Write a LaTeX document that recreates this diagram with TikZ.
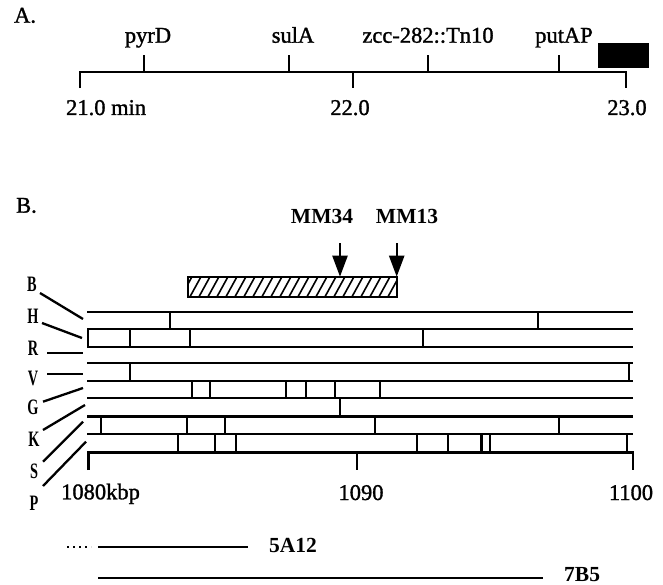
\documentclass[tikz,border=0pt]{standalone}
\usepackage{fontspec}
\setmainfont{Liberation Serif}
\newfontfamily\heavyrm[FakeBold=1.3]{Liberation Serif}
\usetikzlibrary{arrows.meta}
\newcommand{\condtxt}[1]{\scalebox{0.65}[1]{#1}}
\begin{document}
\begin{tikzpicture}[x=1pt,y=-1pt,line width=2.3pt,
  lab/.style={font=\heavyrm\fontsize{22.5}{24}\selectfont,inner sep=0pt},
  blab/.style={font=\fontsize{21.5}{22}\selectfont\bfseries,inner sep=0pt},
  enz/.style={font=\fontsize{22}{22}\selectfont\bfseries,inner sep=0pt},
  rowline/.style={line width=2.3pt},
  conn/.style={line width=2.3pt},
  arr/.style={line width=2.3pt,-{Triangle[width=15pt,length=21pt]}}]
\useasboundingbox (0,0) rectangle (663,585);

% ---------------- Part A ----------------
\node[lab,anchor=base west] (labA) at (13,22.7) {A.};
\coordinate (a0) at (80,71.7);
\coordinate (a1) at (352.7,71.7);
\coordinate (a2) at (626,71.7);
\draw (a0) ++(0,16.5) -- (a0) -- (a2) -- ++(0,16.5);
\draw (a1) -- ++(0,16.5);
\coordinate (tpyr) at (144,71.7);
\coordinate (tsul) at (289,71.7);
\coordinate (tzcc) at (428.3,71.7);
\coordinate (tput) at (559.3,71.7);
\foreach \t in {tpyr,tsul,tzcc,tput} \draw (\t) -- ++(0,-16.7);
\node[lab,anchor=base] (pyrD) at (148,42.7) {pyrD};
\node[lab,anchor=base] (sulA) at (293,42.7) {sulA};
\node[lab,anchor=base] (zcc) at (428,42.7) {zcc-282::Tn10};
\node[lab,anchor=base] (putAP) at (564,42.7) {putAP};
\fill (598,43) rectangle (649,68);
\node[lab,anchor=base west] (m21) at (65,115) {21.0 min};
\node[lab,anchor=base] (m22) at (350,115) {22.0};
\node[lab,anchor=base] (m23) at (627,115) {23.0};

% ---------------- Part B ----------------
\node[lab,anchor=base west] (labB) at (15,212.7) {B.};
\node[blab,anchor=base] (mm34) at (322,223) {MM34};
\node[blab,anchor=base] (mm13) at (407,223) {MM13};
% hatched bar
\coordinate (hb1) at (188.3,276.7);
\coordinate (hb2) at (396.7,296.7);
\begin{scope}
  \clip (hb1) rectangle (hb2);
  \foreach \x in {172,181,...,400} \draw[line width=1.6pt] (\x,296.7) -- ++(11,-20);
\end{scope}
\draw (hb1) rectangle (hb2);
\coordinate (tip34) at (340,276.7);
\coordinate (tip13) at (396.7,276.7);
\draw[arr] (340,243) -- (tip34);
\draw[arr] (396.7,243) -- (tip13);

% horizontal lines of the restriction map
\foreach \y in {312.3,329.3,347.3,363.3,381,398.3,416.5,434.3}
  \draw[rowline] (87,\y) -- (633,\y);
\coordinate (k0) at (88.5,452.5);
\coordinate (k1) at (356.7,452.5);
\coordinate (k2) at (632.7,452.5);
\draw (k0) ++(0,17.5) -- (k0) -- (k2) -- ++(0,17.5);
\draw (k1) -- ++(0,17.5);

% dividers
\foreach \x in {170,538} \draw (\x,312.3) -- (\x,329.3);
\foreach \x in {88,130,190,423} \draw (\x,329.3) -- (\x,347.3);
\foreach \x in {130,629} \draw (\x,363.3) -- (\x,381);
\foreach \x in {192,210,286,306,335,380} \draw (\x,381) -- (\x,398.3);
\foreach \x in {340} \draw (\x,398.3) -- (\x,416.5);
\foreach \x in {101,187,225,375,559} \draw (\x,416.5) -- (\x,434.3);
\foreach \x in {178,215,236,417,448,481.5,490,627} \draw (\x,434.3) -- (\x,452.5);

% enzyme labels
\node[enz,anchor=base] (eB) at (32,291.7) {\condtxt{B}};
\node[enz,anchor=base] (eH) at (33,323) {\condtxt{H}};
\node[enz,anchor=base] (eR) at (33,355) {\condtxt{R}};
\node[enz,anchor=base] (eV) at (33,385) {\condtxt{V}};
\node[enz,anchor=base] (eG) at (33,414) {\condtxt{G}};
\node[enz,anchor=base] (eK) at (34,446.7) {\condtxt{K}};
\node[enz,anchor=base] (eS) at (34,478) {\condtxt{S}};
\node[enz,anchor=base] (eP) at (34,510) {\condtxt{P}};
\coordinate (cB) at (40,293);   \coordinate (rB) at (83,319);
\coordinate (cH) at (42,323);   \coordinate (rH) at (82,338);
\coordinate (cR) at (47,352.7); \coordinate (rR) at (83,352.7);
\coordinate (cV) at (47,374.3); \coordinate (rV) at (83,374.3);
\coordinate (cG) at (43,401.7); \coordinate (rG) at (83,388);
\coordinate (cK) at (43,430);   \coordinate (rK) at (85,405);
\coordinate (cS) at (43,461.7); \coordinate (rS) at (83,421.7);
\coordinate (cP) at (43,486);   \coordinate (rP) at (86,441.7);
\foreach \e in {B,H,R,V,G,K,S,P} \draw[conn] (c\e) -- (r\e);

\node[lab,anchor=base west] (kb1080) at (60,499.3) {1080kbp};
\node[lab,anchor=base] (kb1090) at (361,500) {1090};
\node[lab,anchor=base] (kb1100) at (631,500) {1100};

% clones
\coordinate (d0) at (67,546.7);
\coordinate (c5a) at (98,546.7);
\coordinate (c5b) at (248,546.7);
\draw[line width=2.3pt,dash pattern=on 2pt off 4pt] (d0) -- (91,546.7);
\draw (c5a) -- (c5b);
\node[blab,anchor=base west] (l5A12) at (268,552) {5A12};
\coordinate (c7a) at (98,578);
\coordinate (c7b) at (543,578);
\draw (c7a) -- (c7b);
\node[blab,anchor=base west] (l7B5) at (563,581.5) {7B5};
\end{tikzpicture}
\end{document}
